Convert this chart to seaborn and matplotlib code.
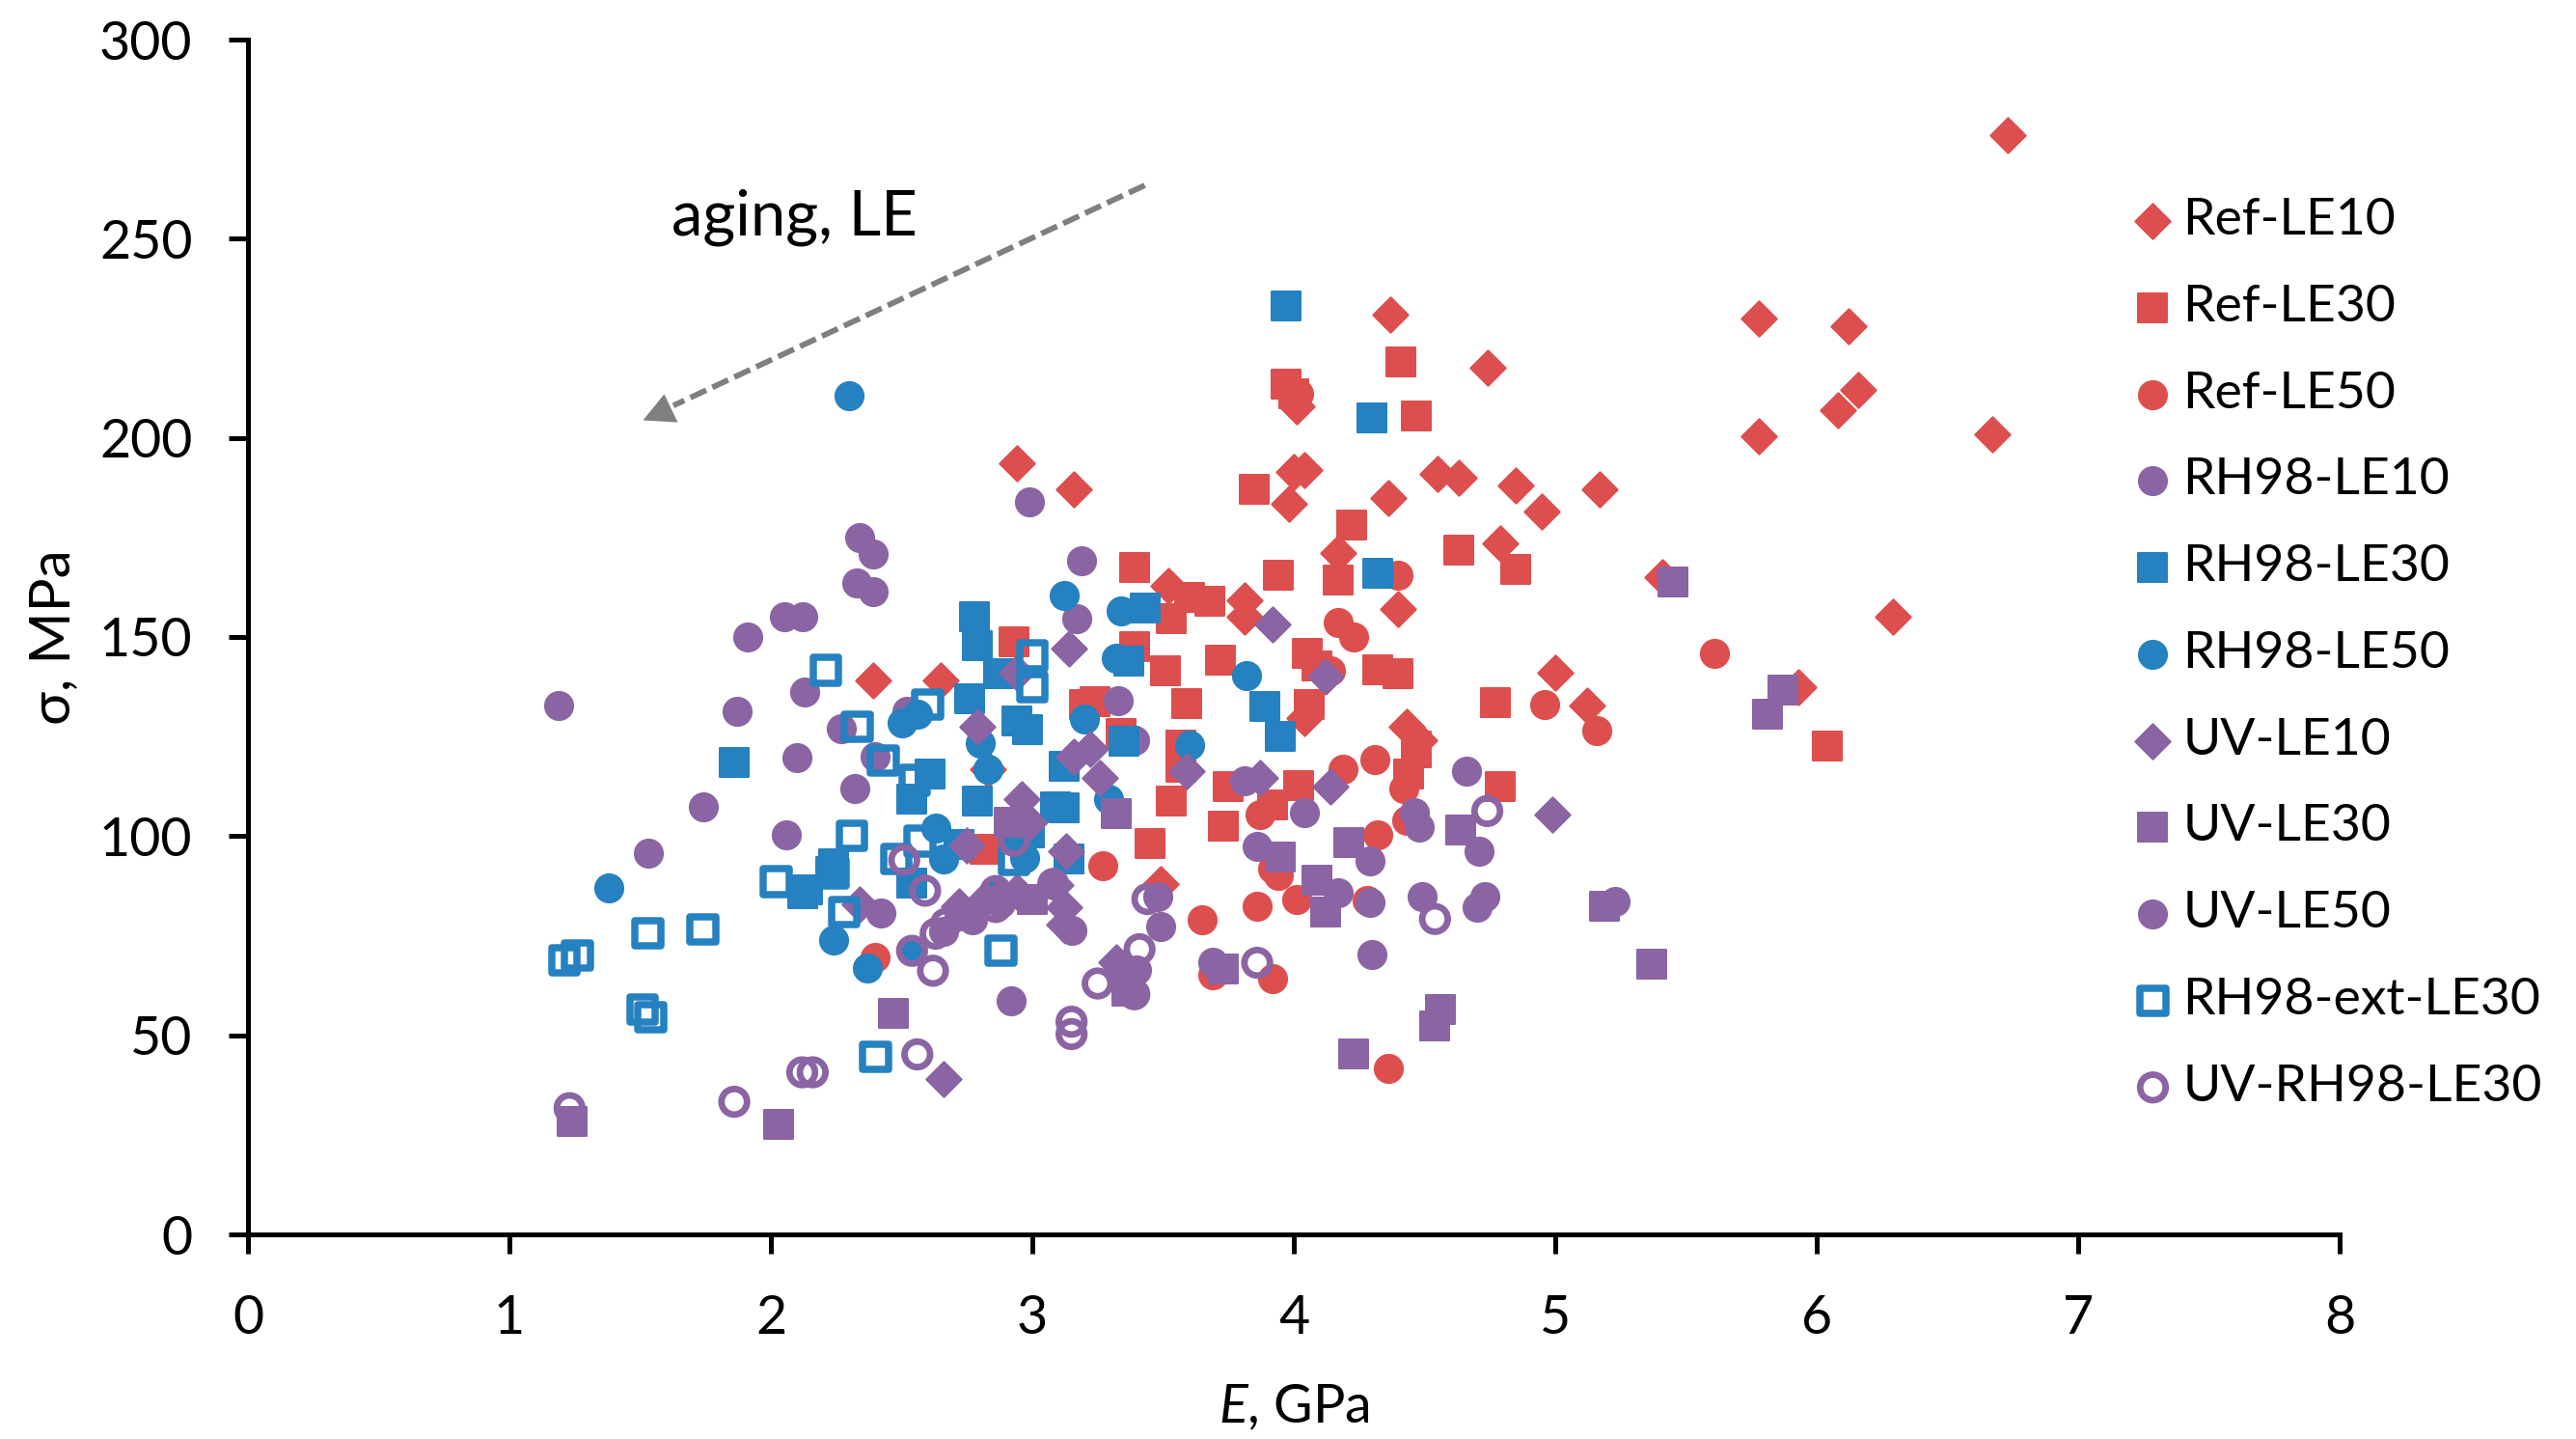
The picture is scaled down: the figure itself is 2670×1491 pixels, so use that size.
import matplotlib
matplotlib.use("Agg")
import seaborn as sns
import matplotlib.pyplot as plt

# E (GPa) and strength (MPa), one pair of lists per series
ref_le10_e = [6.73, 5.78, 6.12, 4.74, 4.37, 6.16, 6.08, 5.78, 6.67, 4.01, 4.04, 4.0, 4.55, 4.63, 4.85, 4.95,
              5.17, 4.36, 3.98, 4.79, 4.17, 2.94, 3.16, 5.41, 4.40, 3.52, 3.81, 3.81, 6.29, 5.0, 5.93, 5.12,
              4.04, 4.43, 4.48, 2.39, 2.65, 2.83, 3.49]
ref_le10_s = [276, 230, 228, 217.5, 231, 212, 207, 200.5, 201, 208, 192, 191.5, 191, 190, 188, 181.5,
              187, 185, 183.5, 173.5, 171, 193.5, 187, 165, 157, 162.9, 159.2, 155, 155, 141, 137.5, 132.7,
              129.7, 127.5, 124, 139, 139, 116.8, 88]

ref_le30_e = [3.97, 4.0, 4.41, 4.47, 3.85, 4.22, 4.63, 4.85, 3.39, 3.94, 4.17, 3.60, 3.68, 3.53, 2.93, 3.39,
              3.51, 3.72, 4.05, 4.09, 4.32, 4.40, 3.20, 3.24, 3.59, 4.77, 4.06, 3.34, 3.57, 3.57, 4.47, 4.47,
              4.44, 3.75, 4.02, 4.79, 3.53, 3.92, 3.73, 3.45, 6.04, 2.82]
ref_le30_s = [213.5, 211, 219, 205.5, 187, 178, 171.9, 166.9, 167.5, 165.5, 164.3, 160, 159, 154.6, 148.7, 147.5,
              141.4, 144.3, 145.9, 142.7, 141.7, 140.9, 133, 133.8, 133.4, 133.6, 133.1, 125.7, 122.9, 117.4, 122.5, 120.9,
              115.5, 112.5, 112.8, 112.4, 108.7, 107.9, 102.6, 98.2, 122.5, 96.8]

ref_le50_e = [5.61, 4.17, 4.23, 4.40, 4.96, 5.16, 4.14, 4.19, 4.31, 4.42, 3.87, 4.43, 4.32, 3.27, 3.92, 3.94,
              3.86, 4.01, 3.65, 4.28, 3.69, 3.92, 4.36, 2.40, 4.02]
ref_le50_s = [145.9, 153.6, 150.1, 165.5, 133, 126.5, 141.5, 116.8, 119.2, 112, 105.3, 103.9, 100.4, 92.6, 91.8, 90.2,
              82.3, 84.2, 79.1, 83.8, 65.3, 64.2, 41.8, 69.6, 211]

rh98_le10_e = [2.34, 2.39, 2.33, 2.39, 2.05, 2.12, 1.91, 3.19, 3.17, 1.19, 1.87, 2.13, 2.52, 2.27, 2.10, 2.40,
               2.32, 1.74, 2.06, 1.53, 3.33, 3.39, 2.99]
rh98_le10_s = [175, 170.9, 163.5, 161.3, 155.2, 155.2, 149.9, 169.2, 154.5, 132.9, 131.4, 136.3, 131.4, 127, 119.8, 120,
               112, 107.4, 100.4, 95.6, 134, 124.1, 184]

rh98_le30_e = [2.78, 2.79, 2.87, 2.76, 2.94, 2.98, 3.43, 3.37, 3.12, 3.35, 2.79, 3.09, 3.12, 2.61, 2.54, 1.86,
               2.24, 2.23, 2.12, 2.14, 2.72, 2.54, 2.99, 3.14, 3.97, 4.30, 4.32, 3.89, 3.95]
rh98_le30_s = [155, 147.9, 140.9, 134.6, 128.9, 126.8, 157.2, 143.9, 117.6, 123.8, 108.7, 107.4, 107, 115.6, 109.4, 118.6,
               93.1, 91, 85.5, 86.5, 97.8, 88.1, 100.7, 94.2, 233, 205, 166, 132.6, 125.1]

rh98_le50_e = [3.12, 3.34, 3.32, 2.30, 2.50, 2.56, 3.20, 2.80, 2.83, 3.29, 2.63, 2.66, 2.97, 1.38, 2.24, 2.37,
               2.54, 3.82, 3.60, 2.93, 2.86]
rh98_le50_s = [160.4, 156.6, 144.7, 210.7, 128.5, 130.7, 129.3, 123.3, 116.8, 109.2, 101.9, 94.2, 94.6, 87, 73.9, 66.8,
               71.2, 140.3, 122.9, 99, 85.3]

uv_le10_e = [3.14, 2.94, 2.79, 3.22, 3.16, 3.26, 2.96, 2.99, 2.75, 3.13, 2.34, 2.72, 2.94, 3.09, 3.12, 3.12,
             2.66, 3.32, 3.37, 3.92, 4.12, 3.59, 3.87, 4.14, 4.99, 2.82, 2.88]
uv_le10_s = [147.1, 141, 127.5, 121.8, 120, 114.6, 109.2, 103.5, 97.6, 96.2, 82.9, 82.5, 86.1, 87.7, 82.1, 77.7,
             39.1, 68.4, 64.4, 153.2, 140, 116.4, 114.6, 112.4, 105.5, 84, 85]

uv_le30_e = [5.45, 5.81, 5.87, 4.21, 4.64, 3.95, 4.09, 4.12, 5.19, 5.37, 4.56, 4.54, 4.23, 3.73, 3.32, 2.91,
             3.0, 2.47, 2.03, 1.24, 3.36]
uv_le30_s = [163.9, 130.6, 136.6, 98.5, 101.5, 94.8, 89, 80.9, 82.5, 67.8, 56.5, 52.3, 45.2, 66.6, 105.7, 103.5,
             84.1, 55.5, 27.6, 28.4, 61.1]

uv_le50_e = [4.66, 3.81, 4.04, 4.46, 4.48, 4.71, 3.86, 4.29, 4.17, 4.29, 4.49, 4.73, 4.70, 5.23, 4.30, 3.69,
             3.48, 3.49, 2.92, 2.77, 3.15, 2.42, 2.66, 2.72, 2.88, 3.40, 3.39]
uv_le50_s = [116.2, 114, 106, 105.9, 102.3, 96.2, 97.4, 93.8, 85.9, 83.3, 84.7, 84.7, 82.1, 83.5, 70.2, 68.4,
             84.8, 77.4, 58.7, 78.9, 76.4, 80.7, 76, 80, 83, 66.4, 60.3]

rh98_ext_e = [2.21, 2.60, 2.33, 3.0, 3.0, 2.43, 2.55, 2.31, 2.57, 2.48, 2.93, 2.02, 2.24, 2.28, 1.53, 1.74,
              1.21, 1.26, 1.51, 1.54, 2.88, 2.40]
rh98_ext_s = [141.6, 133.1, 127.5, 145.3, 137.4, 119, 114, 100.1, 98.7, 94.2, 94, 88.6, 90.8, 80.9, 75.6, 76.6,
              68.8, 70, 56.5, 54.5, 71.2, 44.6]

uv_rh98_e = [4.74, 4.54, 3.86, 3.41, 3.44, 2.51, 2.93, 2.59, 2.54, 2.62, 2.63, 2.67, 2.86, 2.86, 3.08, 2.56,
             3.15, 3.15, 2.12, 2.16, 1.86, 1.23, 3.25, 3.39]
uv_rh98_s = [106.3, 79.2, 68.2, 71.6, 84.2, 94, 98.8, 86.3, 71.2, 66.2, 75.5, 78, 82.2, 86.2, 88, 45.2,
             53.4, 50.3, 40.7, 40.7, 33.3, 31.7, 63, 60.3]

RED = "#DD4F4E"
PURPLE = "#8B64A4"
BLUE = "#2581C0"
GRAY = "#7F7F7F"

# name, x, y, colour, marker, size, edge width, hollow
series = [
    ("Ref-LE10", ref_le10_e, ref_le10_s, RED, "D", 345, 1.44, False),
    ("Ref-LE30", ref_le30_e, ref_le30_s, RED, "s", 450, 1.44, False),
    ("Ref-LE50", ref_le50_e, ref_le50_s, RED, "o", 440, 1.44, False),
    ("RH98-LE10", rh98_le10_e, rh98_le10_s, PURPLE, "o", 440, 1.44, False),
    ("RH98-LE30", rh98_le30_e, rh98_le30_s, BLUE, "s", 450, 1.44, False),
    ("RH98-LE50", rh98_le50_e, rh98_le50_s, BLUE, "o", 440, 1.44, False),
    ("UV-LE10", uv_le10_e, uv_le10_s, PURPLE, "D", 345, 1.44, False),
    ("UV-LE30", uv_le30_e, uv_le30_s, PURPLE, "s", 450, 1.44, False),
    ("UV-LE50", uv_le50_e, uv_le50_s, PURPLE, "o", 440, 1.44, False),
    ("RH98-ext-LE30", rh98_ext_e, rh98_ext_s, BLUE, "s", 363, 5.4, True),
    ("UV-RH98-LE30", uv_rh98_e, uv_rh98_s, PURPLE, "o", 363, 4.9, True),
]

sns.set_theme(style="white")
plt.rcParams['font.family'] = ['Lato', 'DejaVu Sans']
plt.rcParams['mathtext.fontset'] = 'custom'
plt.rcParams['mathtext.rm'] = 'Lato'
plt.rcParams['mathtext.it'] = 'Lato:italic'

fig = plt.figure(figsize=(26.7, 14.91), dpi=100)
ax = fig.add_axes([257 / 2670, 1 - 1279 / 1491, (2425 - 257) / 2670, (1279 - 41) / 1491])

for name, x, y, color, marker, size, edge, hollow in series:
    face = 'none' if hollow else color
    sns.scatterplot(x=x, y=y, ax=ax, color=color, marker=marker, s=size, facecolor=face,
                    edgecolor=color, linewidth=edge, joinstyle='round', label=name, clip_on=False)

ax.set_xlim(0, 8)
ax.set_ylim(0, 300)
ax.set_xticks(range(0, 9))
ax.set_yticks(range(0, 301, 50))
ax.tick_params(axis='x', direction='out', length=14.4, width=3.6, color='black',
               labelsize=40, labelcolor='black', pad=30, bottom=True)
ax.tick_params(axis='y', direction='out', length=14.4, width=3.6, color='black',
               labelsize=40, labelcolor='black', pad=27, left=True)
sns.despine(ax=ax)
for side in ['left', 'bottom']:
    ax.spines[side].set_linewidth(3.6)
    ax.spines[side].set_color('black')

ax.set_xlabel(r'$\mathit{E}$, GPa', fontsize=40, color='black', labelpad=30)
ax.set_ylabel('σ, MPa', fontsize=42, color='black', labelpad=15)

# aging arrow, dashed shaft with a triangle head
ax.plot([3.43, 1.627], [263.4, 208.1], color=GRAY, lw=4.2, dashes=(3.1, 1.2), dash_capstyle='butt')
head = [(-0.5, -0.36), (0.5, -0.42), (0.11, 0.39)]
ax.scatter([1.576], [207.7], marker=head, s=672, color=GRAY, linewidth=0, zorder=3)
ax.text(1.62, 251, 'aging, LE', fontsize=47, color='black', ha='left', va='baseline')

ax.legend(loc='upper left', bbox_to_anchor=(2178 / 2670, 1 - 205 / 1491), bbox_transform=fig.transFigure,
          frameon=False, fontsize=38.5, labelspacing=0.8, handletextpad=-0.42, borderpad=0, borderaxespad=0,
          scatterpoints=1, labelcolor='black')

fig.savefig("out.png", dpi=100)
